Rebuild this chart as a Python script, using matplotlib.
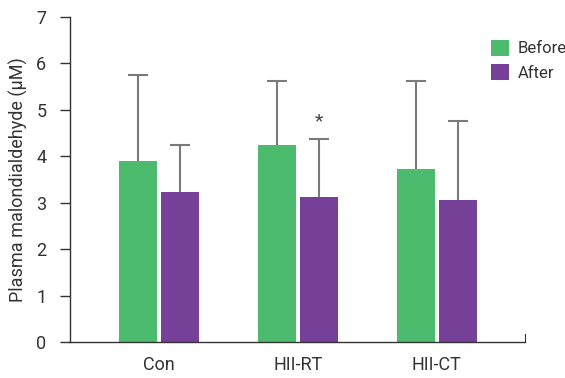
import matplotlib.pyplot as plt
import numpy as np

groups = ["Con", "HII-RT", "HII-CT"]
before = [3.90, 4.25, 3.73]
after = [3.24, 3.13, 3.06]
before_sd = [1.85, 1.37, 1.89]
after_sd = [1.01, 1.24, 1.69]

green = "#4dbb6d"
purple = "#763f98"
err_col = "#7a7a7a"
txt = "#333333"

plt.rcParams['font.family'] = ['Roboto', 'DejaVu Sans']

fig = plt.figure(figsize=(5.65, 3.78), dpi=100)
ax = fig.add_axes([0.1239, 0.0952, 0.805, 0.860])

x = np.arange(len(groups))
w = 0.273
off = 0.151
ax.bar(x - off, before, w, color=green, label="Before", zorder=2)
ax.bar(x + off, after, w, color=purple, label="After", zorder=2)

# upward-only error bars
for xs, vals, sd in [(x - off, before, before_sd), (x + off, after, after_sd)]:
    _, caps, _ = ax.errorbar(xs, vals, yerr=[np.zeros(3), sd], fmt="none",
                             ecolor=err_col, elinewidth=1.5, capsize=7.5,
                             capthick=1.5, zorder=3)
    caps[0].set_visible(False)

# significance mark over HII-RT after
ax.text(1 + off, after[1] + after_sd[1] + 0.18, "*", ha="center", va="bottom",
        fontsize=14, color="#444444")

ax.set_xlim(-0.64, 2.633)
ax.set_ylim(0, 7)
ax.set_xticks(x)
ax.set_xticklabels(groups, fontsize=13, color=txt)
ax.tick_params(axis="x", length=0, pad=10)
ax.set_yticks(range(8))
ax.tick_params(axis="y", direction="out", length=7, width=1, colors="#333333",
               labelsize=13, pad=10)
ax.set_ylabel("Plasma malondialdehyde (\u03bcM)", fontsize=13, color=txt, labelpad=6)

for s in ["left", "bottom"]:
    ax.spines[s].set_linewidth(1)
    ax.spines[s].set_color("#333333")
ax.spines["top"].set_visible(False)
ax.spines["right"].set_bounds(0, 0.17)
ax.spines["right"].set_color("#333333")

ax.legend(loc="upper left", bbox_to_anchor=(0.925, 0.93), frameon=False,
          fontsize=12, handlelength=1.1, handleheight=1.1, handletextpad=0.5,
          labelspacing=0.45, labelcolor=txt, borderaxespad=0, borderpad=0)

fig.savefig("out.png", dpi=100)
